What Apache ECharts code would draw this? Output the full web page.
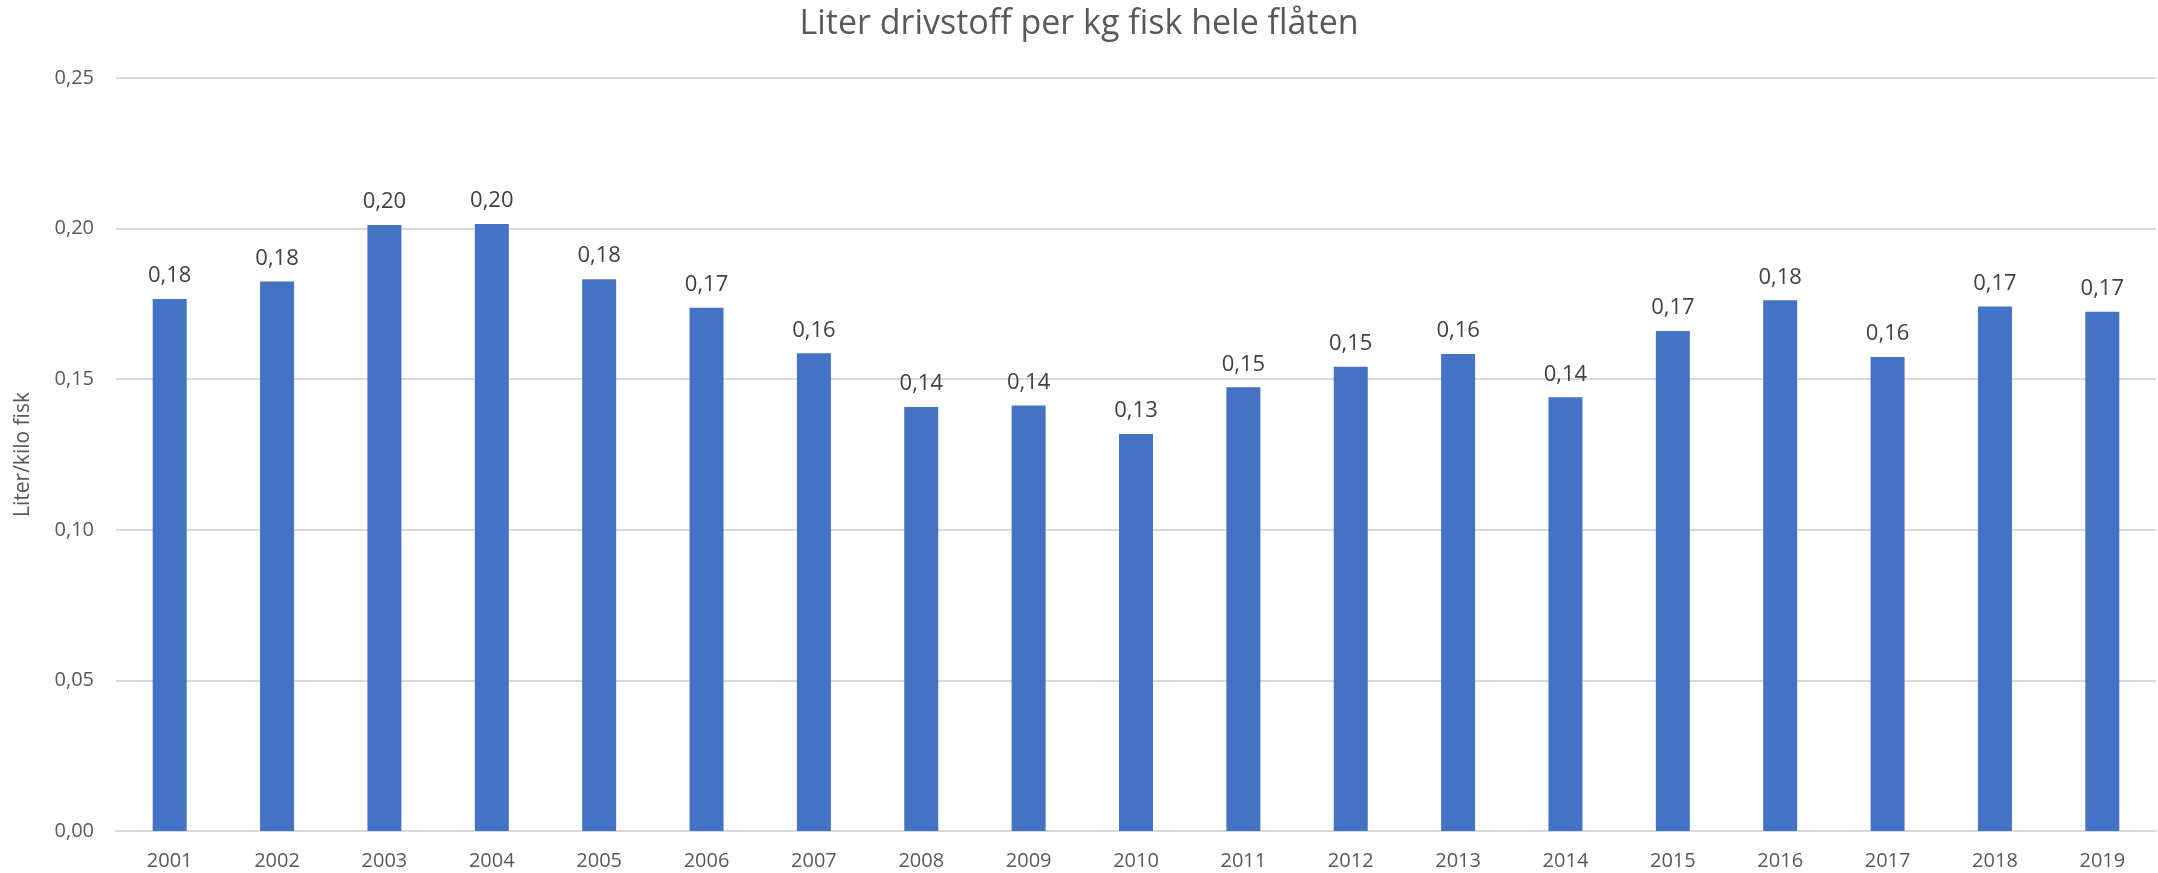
<!DOCTYPE html>
<html>
<head>
<meta charset="utf-8">
<script src="https://cdn.jsdelivr.net/npm/echarts@6/dist/echarts.min.js"></script>
<style>
  html, body { margin: 0; padding: 0; background: #fff; }
  #chart { width: 2158px; height: 873px; }
</style>
</head>
<body>
<div id="chart"></div>
<script>
// Liter drivstoff per kg fisk, hele flåten
const years = ['2001', '2002', '2003', '2004', '2005', '2006', '2007', '2008', '2009', '2010',
  '2011', '2012', '2013', '2014', '2015', '2016', '2017', '2018', '2019'];
const literPerKg = [0.1766, 0.1824, 0.2012, 0.2015, 0.1832, 0.1737, 0.1586, 0.1408, 0.1413, 0.1318,
  0.1473, 0.1541, 0.1584, 0.1440, 0.1660, 0.1762, 0.1574, 0.1741, 0.1724];
const yTicks = [0, 0.05, 0.10, 0.15, 0.20, 0.25];

const font = '"Open Sans", "Noto Sans", sans-serif';
const comma = (v, d) => v.toFixed(d).replace('.', ',');

const chart = echarts.init(document.getElementById('chart'));

chart.setOption({
  animation: false,
  title: {
    text: 'Liter drivstoff per kg fisk hele flåten',
    left: 'center',
    top: 2,
    textStyle: { fontFamily: font, fontSize: 34, fontWeight: 'normal', color: '#595959' }
  },
  grid: { left: 116, right: 2, top: 78, bottom: 42 },
  xAxis: {
    type: 'category',
    data: years,
    axisTick: { show: false },
    axisLine: { lineStyle: { color: '#d9d9d9', width: 2 } },
    axisLabel: { fontFamily: font, fontSize: 20, color: '#595959', margin: 20 }
  },
  yAxis: {
    type: 'value',
    min: yTicks[0],
    max: yTicks[yTicks.length - 1],
    interval: 0.05,
    name: 'Liter/kilo fisk',
    nameLocation: 'middle',
    nameGap: 82,
    nameTextStyle: { fontFamily: font, fontSize: 21, color: '#595959' },
    axisLine: { show: false },
    axisTick: { show: false },
    splitLine: { lineStyle: { color: '#d9d9d9', width: 2 } },
    axisLabel: {
      fontFamily: font, fontSize: 20, color: '#595959', margin: 22,
      formatter: v => comma(v, 2)
    }
  },
  series: [{
    type: 'bar',
    data: literPerKg,
    barWidth: 34,
    itemStyle: { color: '#4472c4' },
    label: {
      show: true,
      position: 'top',
      distance: 12,
      fontFamily: font,
      fontSize: 22,
      color: '#404040',
      formatter: p => comma(p.value, 2)
    }
  }]
});
</script>
</body>
</html>
